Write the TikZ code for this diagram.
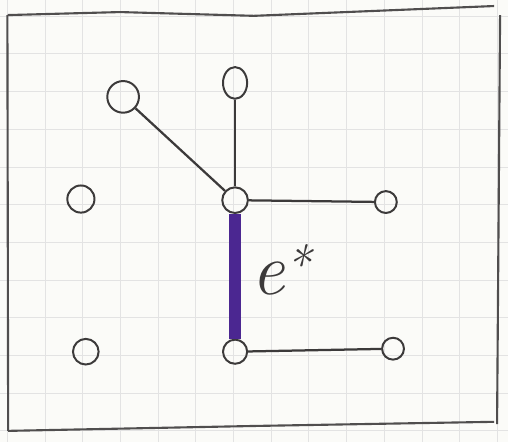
\documentclass[tikz,border=0pt]{standalone}
\usepackage{fontspec}
\usepackage{tikz}
\usetikzlibrary{shapes.geometric}

\definecolor{pencil}{HTML}{3C3A3A}
\definecolor{marker}{HTML}{4B2791}
\definecolor{paper}{HTML}{FBFBF8}

\tikzset{
  vertex/.style={circle, draw=pencil, line width=1.5pt, inner sep=0pt, minimum size=0.68cm},
  edge/.style={pencil, line width=1.7pt},
  special/.style={marker, line width=9.5pt}
}

\begin{document}
\begin{tikzpicture}[line width=1.1pt]

  % ---------- paper ----------
  \fill[paper] (-0.196,-0.292) rectangle (13.28,11.43);
  \useasboundingbox (-0.196,-0.292) rectangle (13.28,11.43);
  \foreach \x in {0,...,13}
    \draw[gray!22, line width=0.7pt] (\x,-0.292) -- (\x,11.43);
  \foreach \y in {0,...,11}
    \draw[gray!22, line width=0.7pt] (-0.196,\y) -- (13.28,\y);

  % ---------- frame ----------
  \draw[pencil!90, line width=1.6pt] (0.01,11.03) -- (2.99,11.11) -- (6.54,11.01) -- (12.91,11.27);
  \draw[pencil!90, line width=1.6pt] (0.00,11.03) -- (0.02,0.00);
  \draw[pencil!90, line width=1.6pt] (0.02,0.00) -- (6.54,0.13) -- (12.91,0.24);
  \draw[pencil!90, line width=1.6pt] (13.07,11.03) -- (12.99,0.18);

  % ---------- vertices ----------
  \node[vertex, minimum size=0.84cm] (a) at (3.07,8.86) {};
  \node[vertex, ellipse, minimum width=0.64cm, minimum height=0.84cm] (b) at (6.04,9.23) {};
  \node[vertex] (c) at (6.04,6.12) {};
  \node[vertex, minimum size=0.72cm] (d) at (1.95,6.15) {};
  \node[vertex, minimum size=0.58cm] (e) at (10.04,6.07) {};
  \node[vertex] (f) at (2.08,2.10) {};
  \node[vertex, minimum size=0.64cm] (g) at (6.04,2.10) {};
  \node[vertex, minimum size=0.58cm] (h) at (10.23,2.18) {};

  % ---------- edges ----------
  \draw[edge] (a) -- (c);
  \draw[edge] (b) -- (c);
  \draw[edge] (c) -- (e);
  \draw[edge] (g) -- (h);
  \draw[special] (c) -- (g);

  % ---------- label ----------
  \node[pencil, font=\fontsize{56}{62}\selectfont] (lbl) at (7.27,4.27) {\itshape e\textsuperscript{*}};

\end{tikzpicture}
\end{document}
